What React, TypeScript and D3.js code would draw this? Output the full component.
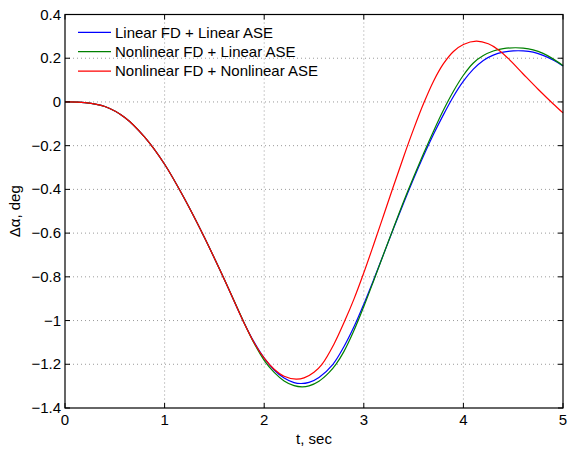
import React from "react";
import * as d3 from "d3";

type Pt = [number, number];

const xTicks = [0, 1, 2, 3, 4, 5];
const yTicks = [0.4, 0.2, 0, -0.2, -0.4, -0.6, -0.8, -1, -1.2, -1.4];
const seriesNames = [
  "Linear FD + Linear ASE",
  "Nonlinear FD + Linear ASE",
  "Nonlinear FD + Nonlinear ASE",
];
const seriesColors = ["#0000ff", "#008000", "#ff0000"];

const linearFdLinearAse: Pt[] = [
  [0, 0], [0.2, -0.003], [0.4, -0.021], [0.6, -0.071], [0.8, -0.161], [1.0, -0.285],
  [1.2, -0.443], [1.4, -0.62], [1.6, -0.812], [1.8, -1.012], [1.9, -1.1], [2.0, -1.172],
  [2.1, -1.226], [2.2, -1.263], [2.3, -1.284], [2.37, -1.288], [2.45, -1.2825], [2.55, -1.26],
  [2.69, -1.2], [2.8, -1.12], [2.9, -1.03], [3.0, -0.925], [3.1, -0.812], [3.2, -0.695],
  [3.3, -0.577], [3.4, -0.462], [3.5, -0.351], [3.6, -0.246], [3.7, -0.148], [3.8, -0.058],
  [3.9, 0.025], [4.0, 0.095], [4.1, 0.15], [4.2, 0.19], [4.3, 0.214], [4.4, 0.2275],
  [4.5, 0.2335], [4.6, 0.2335], [4.7, 0.228], [4.8, 0.213], [4.9, 0.192], [5.0, 0.165],
];

const nonlinearFdLinearAse: Pt[] = [
  [0, 0], [0.2, -0.003], [0.4, -0.021], [0.6, -0.071], [0.8, -0.161], [1.0, -0.285],
  [1.2, -0.443], [1.4, -0.62], [1.6, -0.812], [1.8, -1.012], [1.9, -1.105], [2.0, -1.182],
  [2.1, -1.237], [2.2, -1.276], [2.3, -1.2976], [2.38, -1.303], [2.45, -1.2986], [2.55, -1.2773],
  [2.65, -1.238], [2.72, -1.2], [2.8, -1.142], [2.9, -1.047], [3.0, -0.936], [3.1, -0.8165],
  [3.2, -0.6945], [3.3, -0.574], [3.4, -0.455], [3.5, -0.343], [3.6, -0.236], [3.7, -0.1335],
  [3.8, -0.037], [3.9, 0.049], [4.0, 0.122], [4.1, 0.178], [4.2, 0.212], [4.3, 0.233],
  [4.4, 0.244], [4.52, 0.248], [4.6, 0.246], [4.7, 0.238], [4.8, 0.222], [4.9, 0.197],
  [5.0, 0.166],
];

const nonlinearFdNonlinearAse: Pt[] = [
  [0, 0], [0.2, -0.003], [0.4, -0.021], [0.6, -0.071], [0.8, -0.161], [1.0, -0.285],
  [1.2, -0.443], [1.4, -0.62], [1.6, -0.812], [1.8, -1.013], [1.9, -1.1025], [2.0, -1.172],
  [2.1, -1.2226], [2.2, -1.2545], [2.32, -1.268], [2.4, -1.262], [2.5, -1.236], [2.58, -1.2],
  [2.7, -1.108], [2.81, -1.0], [2.9, -0.903], [3.0, -0.7815], [3.1, -0.651], [3.2, -0.517],
  [3.3, -0.3825], [3.4, -0.2505], [3.5, -0.1245], [3.6, -0.0075], [3.7, 0.095], [3.8, 0.175],
  [3.9, 0.231], [4.0, 0.263], [4.13, 0.278], [4.25, 0.266], [4.35, 0.239], [4.45, 0.199],
  [4.6, 0.128], [4.75, 0.058], [4.9, -0.008], [5.0, -0.05],
];

const allSeries = [linearFdLinearAse, nonlinearFdLinearAse, nonlinearFdNonlinearAse];

const W = 568;
const H = 452;
const L = 65, R = 563, T = 14.5, B = 408;
const FONT = "'Liberation Sans', Arial, Helvetica, sans-serif";

function fmt(v: number) {
  const s = (Math.round(v * 10) / 10).toString();
  return s.replace("-", "\u2212");
}

export default function App() {
  const x = d3.scaleLinear().domain([0, 5]).range([L, R]);
  const y = d3.scaleLinear().domain([-1.4, 0.4]).range([B, T]);
  const line = d3
    .line<Pt>()
    .x((d) => x(d[0]))
    .y((d) => y(d[1]))
    .curve(d3.curveCatmullRom.alpha(0.5));
  const tl = 5;
  return (
    <div style={{ position: "absolute", left: 0, top: 0 }}>
      <svg width={W} height={H} style={{ display: "block", background: "#fff" }}>
        <rect x={0} y={0} width={W} height={H} fill="#fff" />
        {xTicks.slice(1, -1).map((t) => (
          <line key={"gx" + t} x1={x(t)} x2={x(t)} y1={T} y2={B}
            stroke="#9a9a9a" strokeWidth={1} strokeDasharray="1 3" />
        ))}
        {yTicks.slice(1, -1).map((t) => (
          <line key={"gy" + t} x1={L} x2={R} y1={y(t)} y2={y(t)}
            stroke="#9a9a9a" strokeWidth={1} strokeDasharray="1 3" />
        ))}
        {allSeries.map((s, i) => (
          <path key={"s" + i} d={line(s) || ""} fill="none" stroke={seriesColors[i]} strokeWidth={1.2} />
        ))}
        {xTicks.map((t) => (
          <g key={"tx" + t}>
            <line x1={x(t)} x2={x(t)} y1={B} y2={B - tl} stroke="#000" />
            <line x1={x(t)} x2={x(t)} y1={T} y2={T + tl} stroke="#000" />
            <text x={x(t)} y={425} textAnchor="middle" fontFamily={FONT} fontSize={15} fill="#000">
              {fmt(t)}
            </text>
          </g>
        ))}
        {yTicks.map((t) => (
          <g key={"ty" + t}>
            <line x1={L} x2={L + tl} y1={y(t)} y2={y(t)} stroke="#000" />
            <line x1={R} x2={R - tl} y1={y(t)} y2={y(t)} stroke="#000" />
            <text x={61} y={y(t) + 5} textAnchor="end" fontFamily={FONT} fontSize={15} fill="#000">
              {fmt(t)}
            </text>
          </g>
        ))}
        <rect x={L} y={T} width={R - L} height={B - T} fill="none" stroke="#000" strokeWidth={1.2} />
        <text x={(L + R) / 2} y={444} textAnchor="middle" fontFamily={FONT} fontSize={15} fill="#000">
          t, sec
        </text>
        <text transform={`translate(20,${(T + B) / 2}) rotate(-90)`} textAnchor="middle"
          fontFamily={FONT} fontSize={15} fill="#000">
          Δα, deg
        </text>
        {seriesNames.map((n, i) => {
          const cy = 32.3 + i * 19.4;
          return (
            <g key={"lg" + i}>
              <line x1={78} x2={111} y1={cy} y2={cy} stroke={seriesColors[i]} strokeWidth={1.2} />
              <text x={115} y={cy + 5.3} fontFamily={FONT} fontSize={15} fill="#000">{n}</text>
            </g>
          );
        })}
      </svg>
    </div>
  );
}
